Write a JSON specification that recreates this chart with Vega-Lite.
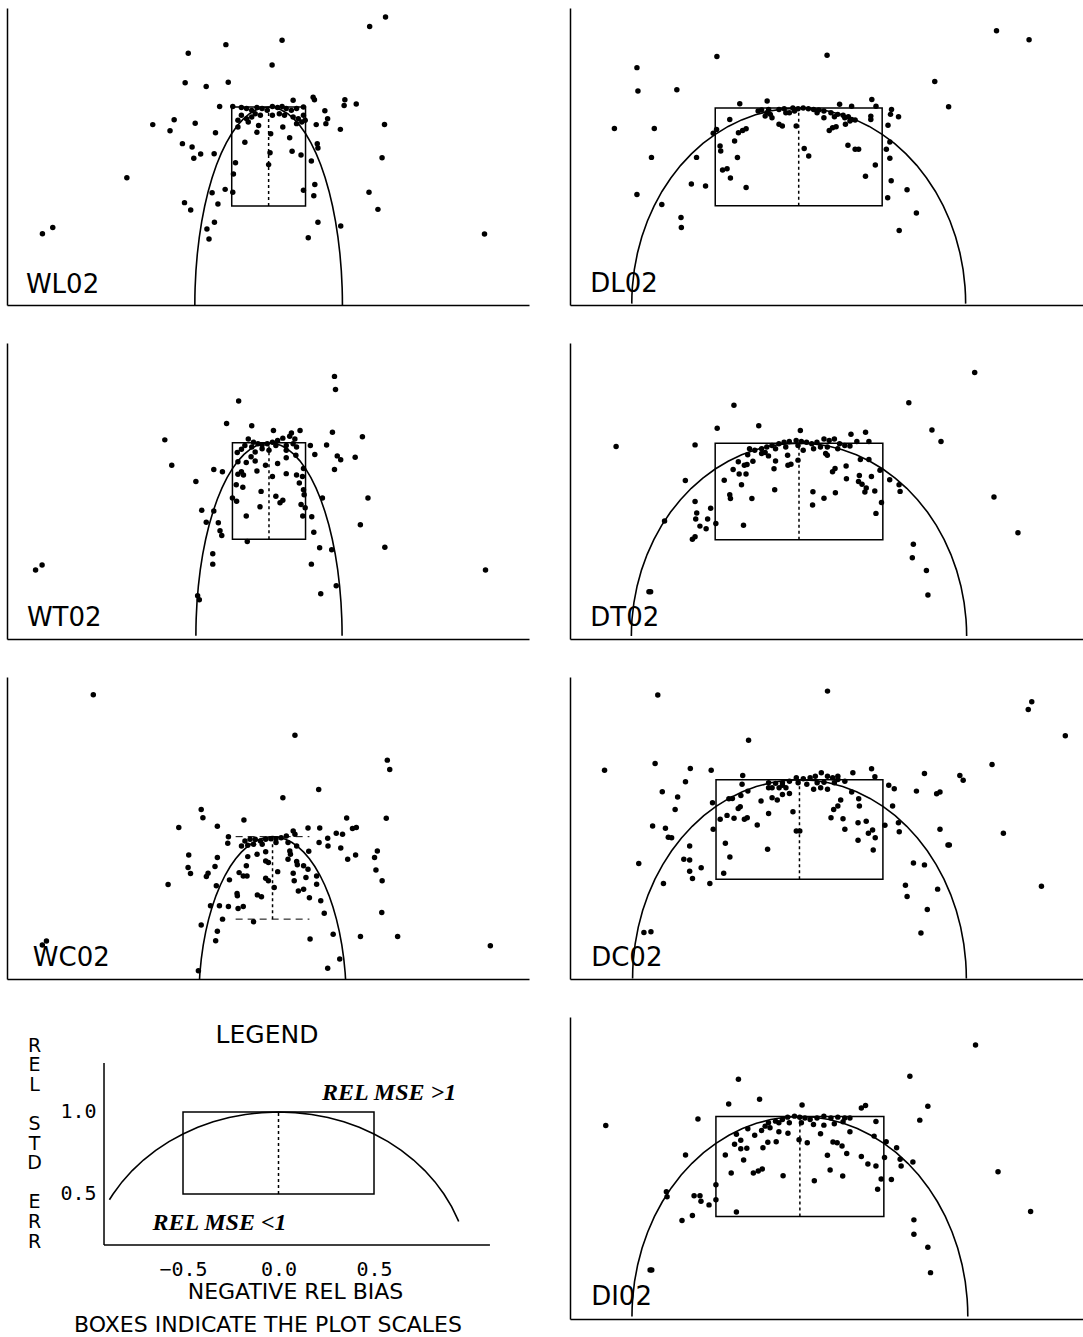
{
"$schema": "https://vega.github.io/schema/vega-lite/v6.json",
"background": "white",
"padding": {"left": 7, "top": 8, "right": 0, "bottom": 0},
"config": {
  "view": {"stroke": null},
  "font": "DejaVu Sans",
  "axis": {"domainColor": "black", "domainWidth": 1.5, "ticks": false, "tickSize": 0, "labels": false, "grid": false}
},
"datasets": {
"circle": [{"x":-1,"y":0},{"x":-0.999,"y":0.0436},{"x":-0.9962,"y":0.0872},{"x":-0.9848,"y":0.1736},{"x":-0.9659,"y":0.2588},{"x":-0.9397,"y":0.342},{"x":-0.9063,"y":0.4226},{"x":-0.866,"y":0.5},{"x":-0.8192,"y":0.5736},{"x":-0.766,"y":0.6428},{"x":-0.7071,"y":0.7071},{"x":-0.6428,"y":0.766},{"x":-0.5736,"y":0.8192},{"x":-0.5,"y":0.866},{"x":-0.4226,"y":0.9063},{"x":-0.342,"y":0.9397},{"x":-0.2588,"y":0.9659},{"x":-0.1736,"y":0.9848},{"x":-0.0872,"y":0.9962},{"x":0,"y":1},{"x":0.0872,"y":0.9962},{"x":0.1736,"y":0.9848},{"x":0.2588,"y":0.9659},{"x":0.342,"y":0.9397},{"x":0.4226,"y":0.9063},{"x":0.5,"y":0.866},{"x":0.5736,"y":0.8192},{"x":0.6428,"y":0.766},{"x":0.7071,"y":0.7071},{"x":0.766,"y":0.6428},{"x":0.8192,"y":0.5736},{"x":0.866,"y":0.5},{"x":0.9063,"y":0.4226},{"x":0.9397,"y":0.342},{"x":0.9659,"y":0.2588},{"x":0.9848,"y":0.1736},{"x":0.9962,"y":0.0872},{"x":0.999,"y":0.0436},{"x":1,"y":0}],
"legendCircle": [{"x":-0.8854,"y":0.4648},{"x":-0.866,"y":0.5},{"x":-0.8192,"y":0.5736},{"x":-0.766,"y":0.6428},{"x":-0.7071,"y":0.7071},{"x":-0.6428,"y":0.766},{"x":-0.5736,"y":0.8192},{"x":-0.5,"y":0.866},{"x":-0.4226,"y":0.9063},{"x":-0.342,"y":0.9397},{"x":-0.2588,"y":0.9659},{"x":-0.1736,"y":0.9848},{"x":-0.0872,"y":0.9962},{"x":0,"y":1},{"x":0.0872,"y":0.9962},{"x":0.1736,"y":0.9848},{"x":0.2588,"y":0.9659},{"x":0.342,"y":0.9397},{"x":0.4226,"y":0.9063},{"x":0.5,"y":0.866},{"x":0.5736,"y":0.8192},{"x":0.6428,"y":0.766},{"x":0.7071,"y":0.7071},{"x":0.766,"y":0.6428},{"x":0.8192,"y":0.5736},{"x":0.866,"y":0.5},{"x":0.9063,"y":0.4226},{"x":0.9397,"y":0.342},{"x":0.9432,"y":0.3322}],
"box": [{"x":-0.5,"x2":0.5,"y":0.5,"y2":1}],
"mid": [{"x":0,"y":0.5,"y2":1}],
"boxEdges": [{"x":-0.5,"x2":0.5,"y":1},{"x":-0.5,"x2":0.5,"y":0.5}],
"legendAxes": [{"x":-0.9136,"x2":-0.9136,"y":0.189,"y2":1.299},{"x":-0.9136,"x2":1.107,"y":0.189,"y2":0.189}],
"WL02": [{"x":1.584,"y":1.455},{"x":1.369,"y":1.407},{"x":0.182,"y":1.337},{"x":-0.579,"y":1.315},{"x":-1.089,"y":1.271},{"x":0.047,"y":1.212},{"x":-1.131,"y":1.123},{"x":-0.846,"y":1.103},{"x":-0.547,"y":1.125},{"x":-1.921,"y":0.643},{"x":-3.065,"y":0.36},{"x":-2.925,"y":0.391},{"x":2.925,"y":0.359},{"x":1.57,"y":0.912},{"x":1.537,"y":0.744},{"x":1.36,"y":0.569},{"x":1.481,"y":0.483},{"x":0.977,"y":0.399},{"x":0.668,"y":0.418},{"x":0.537,"y":0.34},{"x":-1.57,"y":0.911},{"x":-1.336,"y":0.88},{"x":-1.28,"y":0.936},{"x":-0.995,"y":0.918},{"x":-1.168,"y":0.815},{"x":-1.037,"y":0.798},{"x":-1.014,"y":0.741},{"x":-0.921,"y":0.763},{"x":-0.738,"y":0.764},{"x":-0.72,"y":0.87},{"x":-0.664,"y":1.002},{"x":0.332,"y":1.034},{"x":0.603,"y":1.049},{"x":0.621,"y":1.037},{"x":1.033,"y":1.037},{"x":1.187,"y":1.015},{"x":1.023,"y":1.008},{"x":0.762,"y":0.981},{"x":0.799,"y":0.941},{"x":0.776,"y":0.916},{"x":0.645,"y":0.911},{"x":0.972,"y":0.887},{"x":0.659,"y":0.815},{"x":0.668,"y":0.793},{"x":0.579,"y":0.727},{"x":0.626,"y":0.609},{"x":0.612,"y":0.552},{"x":0.472,"y":0.579},{"x":0.318,"y":0.776},{"x":0.439,"y":0.758},{"x":0.285,"y":0.845},{"x":0.192,"y":0.899},{"x":0.028,"y":0.865},{"x":0.019,"y":0.769},{"x":0.0,"y":0.709},{"x":-0.159,"y":0.872},{"x":-0.322,"y":0.822},{"x":-0.449,"y":0.719},{"x":-0.477,"y":0.662},{"x":-0.486,"y":0.569},{"x":-0.589,"y":0.584},{"x":-0.766,"y":0.567},{"x":-0.687,"y":0.51},{"x":-1.14,"y":0.517},{"x":-1.056,"y":0.48},{"x":-0.836,"y":0.384},{"x":-0.734,"y":0.418},{"x":-0.808,"y":0.333},{"x":-0.486,"y":1.003},{"x":-0.369,"y":0.997},{"x":-0.299,"y":0.992},{"x":-0.229,"y":0.983},{"x":-0.159,"y":0.997},{"x":-0.089,"y":0.992},{"x":-0.019,"y":0.983},{"x":0.051,"y":1.003},{"x":0.121,"y":0.997},{"x":0.182,"y":1.003},{"x":0.238,"y":0.992},{"x":0.308,"y":0.983},{"x":0.379,"y":0.992},{"x":0.472,"y":1.0},{"x":-0.369,"y":0.958},{"x":-0.299,"y":0.941},{"x":-0.229,"y":0.949},{"x":-0.182,"y":0.966},{"x":-0.112,"y":0.958},{"x":0.051,"y":0.958},{"x":0.145,"y":0.966},{"x":0.215,"y":0.958},{"x":0.332,"y":0.949},{"x":0.402,"y":0.941},{"x":0.472,"y":0.958},{"x":-0.416,"y":0.933},{"x":-0.276,"y":0.924},{"x":0.379,"y":0.916},{"x":0.449,"y":0.924},{"x":-0.136,"y":0.907},{"x":-0.416,"y":0.899},{"x":0.495,"y":0.933}],
"DL02": [{"x":1.185,"y":1.396},{"x":1.38,"y":1.35},{"x":-0.49,"y":1.264},{"x":0.17,"y":1.27},{"x":-0.969,"y":1.207},{"x":-0.963,"y":1.087},{"x":-0.73,"y":1.094},{"x":0.815,"y":1.136},{"x":0.898,"y":1.007},{"x":-1.104,"y":0.896},{"x":-0.865,"y":0.896},{"x":-0.882,"y":0.748},{"x":-0.969,"y":0.558},{"x":-0.82,"y":0.507},{"x":-0.705,"y":0.44},{"x":-0.703,"y":0.389},{"x":-0.643,"y":0.612},{"x":-0.558,"y":0.602},{"x":-0.612,"y":0.748},{"x":0.602,"y":0.374},{"x":0.705,"y":0.463},{"x":0.649,"y":0.583},{"x":0.533,"y":0.541},{"x":0.554,"y":0.629},{"x":0.546,"y":0.743},{"x":0.525,"y":0.789},{"x":0.459,"y":0.709},{"x":0.4,"y":0.651},{"x":0.546,"y":0.827},{"x":0.535,"y":0.912},{"x":0.598,"y":0.956},{"x":0.55,"y":0.968},{"x":0.556,"y":0.993},{"x":0.438,"y":1.044},{"x":0.463,"y":1.01},{"x":0.432,"y":0.959},{"x":0.432,"y":0.942},{"x":0.245,"y":1.02},{"x":0.317,"y":1.01},{"x":-0.189,"y":1.036},{"x":-0.353,"y":1.022},{"x":-0.471,"y":0.806},{"x":-0.467,"y":0.781},{"x":-0.456,"y":0.684},{"x":-0.429,"y":0.69},{"x":-0.409,"y":0.643},{"x":-0.367,"y":0.747},{"x":-0.384,"y":0.832},{"x":-0.361,"y":0.874},{"x":-0.336,"y":0.886},{"x":-0.315,"y":0.895},{"x":-0.413,"y":0.942},{"x":-0.492,"y":0.891},{"x":-0.512,"y":0.871},{"x":-0.315,"y":0.594},{"x":0.033,"y":0.793},{"x":0.06,"y":0.755},{"x":0.295,"y":0.81},{"x":0.338,"y":0.789},{"x":0.359,"y":0.789},{"x":0.203,"y":0.9},{"x":0.224,"y":0.905},{"x":0.183,"y":0.886},{"x":0.28,"y":0.917},{"x":0.317,"y":0.942},{"x":0.338,"y":0.939},{"x":-0.118,"y":0.917},{"x":-0.098,"y":0.908},{"x":-0.015,"y":0.908},{"x":-0.056,"y":0.976},{"x":-0.222,"y":0.99},{"x":-0.191,"y":0.976},{"x":-0.17,"y":0.968},{"x":-0.201,"y":0.959},{"x":-0.16,"y":0.951},{"x":-0.243,"y":0.985},{"x":-0.118,"y":0.993},{"x":-0.087,"y":0.997},{"x":-0.035,"y":1.0},{"x":-0.004,"y":0.997},{"x":0.027,"y":1.0},{"x":0.058,"y":0.997},{"x":0.089,"y":0.993},{"x":0.12,"y":0.99},{"x":0.151,"y":0.985},{"x":0.193,"y":0.976},{"x":0.234,"y":0.968},{"x":0.266,"y":0.963},{"x":0.297,"y":0.956},{"x":-0.18,"y":0.993},{"x":-0.077,"y":0.976},{"x":-0.025,"y":0.985},{"x":0.11,"y":0.976},{"x":0.151,"y":0.951},{"x":0.214,"y":0.956},{"x":0.276,"y":0.951},{"x":0.307,"y":0.934}],
"WT02": [{"x":0.896,"y":1.344},{"x":0.91,"y":1.276},{"x":-0.415,"y":1.216},{"x":-0.58,"y":1.1},{"x":-0.236,"y":1.088},{"x":0.061,"y":1.063},{"x":0.425,"y":1.063},{"x":0.307,"y":1.051},{"x":0.868,"y":1.054},{"x":1.278,"y":1.031},{"x":-1.425,"y":1.015},{"x":-1.33,"y":0.884},{"x":-1.0,"y":0.799},{"x":-0.755,"y":0.862},{"x":-0.637,"y":0.85},{"x":0.566,"y":0.986},{"x":0.788,"y":0.988},{"x":0.627,"y":0.939},{"x":0.934,"y":0.932},{"x":0.981,"y":0.912},{"x":1.179,"y":0.925},{"x":0.896,"y":0.862},{"x":0.731,"y":0.714},{"x":1.354,"y":0.714},{"x":1.25,"y":0.575},{"x":1.585,"y":0.459},{"x":0.585,"y":0.617},{"x":0.613,"y":0.536},{"x":0.693,"y":0.456},{"x":0.858,"y":0.446},{"x":0.58,"y":0.371},{"x":0.708,"y":0.218},{"x":0.92,"y":0.259},{"x":-0.92,"y":0.65},{"x":-0.755,"y":0.646},{"x":-0.858,"y":0.588},{"x":-0.693,"y":0.585},{"x":-0.67,"y":0.544},{"x":-0.646,"y":0.519},{"x":-0.769,"y":0.425},{"x":-0.769,"y":0.371},{"x":-0.976,"y":0.207},{"x":-0.953,"y":0.187},{"x":-0.297,"y":0.488},{"x":-0.311,"y":0.621},{"x":-3.104,"y":0.367},{"x":-3.193,"y":0.34},{"x":2.962,"y":0.34},{"x":-0.425,"y":0.901},{"x":-0.311,"y":0.898},{"x":-0.189,"y":0.905},{"x":-0.377,"y":0.85},{"x":-0.425,"y":0.837},{"x":-0.349,"y":0.833},{"x":-0.165,"y":0.854},{"x":-0.047,"y":0.884},{"x":0.118,"y":0.893},{"x":0.236,"y":0.922},{"x":0.368,"y":0.935},{"x":0.047,"y":0.825},{"x":0.236,"y":0.84},{"x":0.377,"y":0.833},{"x":0.472,"y":0.867},{"x":0.458,"y":0.825},{"x":0.415,"y":0.791},{"x":0.472,"y":0.757},{"x":0.481,"y":0.731},{"x":0.439,"y":0.68},{"x":0.495,"y":0.663},{"x":0.462,"y":0.621},{"x":-0.448,"y":0.782},{"x":-0.358,"y":0.769},{"x":-0.5,"y":0.714},{"x":-0.443,"y":0.697},{"x":-0.108,"y":0.748},{"x":-0.123,"y":0.668},{"x":0.094,"y":0.723},{"x":0.189,"y":0.702},{"x":0.151,"y":0.689},{"x":-0.434,"y":0.949},{"x":-0.245,"y":0.927},{"x":-0.283,"y":1.02},{"x":-0.212,"y":1.003},{"x":-0.151,"y":0.995},{"x":-0.094,"y":0.99},{"x":-0.024,"y":0.995},{"x":0.047,"y":1.003},{"x":0.118,"y":1.012},{"x":0.189,"y":1.024},{"x":0.283,"y":1.034},{"x":0.354,"y":1.02},{"x":-0.33,"y":0.986},{"x":-0.236,"y":0.978},{"x":-0.094,"y":0.969},{"x":0.094,"y":0.986},{"x":0.236,"y":0.986},{"x":0.33,"y":0.995},{"x":0.377,"y":0.978},{"x":-0.189,"y":0.952},{"x":0.0,"y":0.961},{"x":0.236,"y":0.961},{"x":-0.377,"y":0.966}],
"DT02": [{"x":1.048,"y":1.366},{"x":0.655,"y":1.209},{"x":-0.388,"y":1.196},{"x":-0.24,"y":1.09},{"x":-0.488,"y":1.077},{"x":0.008,"y":1.065},{"x":0.793,"y":1.068},{"x":0.847,"y":1.009},{"x":-1.091,"y":0.983},{"x":-0.62,"y":0.991},{"x":0.397,"y":1.056},{"x":0.31,"y":1.046},{"x":1.163,"y":0.721},{"x":1.306,"y":0.536},{"x":-0.678,"y":0.806},{"x":-0.62,"y":0.697},{"x":-0.61,"y":0.638},{"x":-0.616,"y":0.607},{"x":-0.545,"y":0.607},{"x":-0.527,"y":0.663},{"x":-0.591,"y":0.57},{"x":-0.554,"y":0.556},{"x":-0.496,"y":0.583},{"x":-0.636,"y":0.502},{"x":-0.62,"y":0.515},{"x":-0.802,"y":0.597},{"x":-0.895,"y":0.23},{"x":-0.885,"y":0.23},{"x":0.682,"y":0.476},{"x":0.676,"y":0.406},{"x":0.76,"y":0.34},{"x":0.769,"y":0.213},{"x":0.541,"y":0.81},{"x":0.597,"y":0.784},{"x":0.603,"y":0.75},{"x":0.492,"y":0.692},{"x":0.459,"y":0.636},{"x":0.452,"y":0.752},{"x":-0.362,"y":0.903},{"x":-0.326,"y":0.886},{"x":-0.31,"y":0.889},{"x":-0.275,"y":0.906},{"x":-0.393,"y":0.864},{"x":-0.357,"y":0.84},{"x":-0.316,"y":0.84},{"x":-0.446,"y":0.808},{"x":-0.343,"y":0.784},{"x":-0.413,"y":0.733},{"x":-0.409,"y":0.713},{"x":-0.281,"y":0.713},{"x":-0.331,"y":0.575},{"x":-0.145,"y":0.759},{"x":-0.149,"y":0.867},{"x":-0.14,"y":0.908},{"x":-0.066,"y":0.886},{"x":-0.048,"y":0.891},{"x":-0.006,"y":0.912},{"x":0.083,"y":0.748},{"x":0.081,"y":0.679},{"x":0.149,"y":0.714},{"x":0.217,"y":0.743},{"x":0.2,"y":0.852},{"x":0.215,"y":0.869},{"x":0.281,"y":0.881},{"x":0.283,"y":0.815},{"x":0.36,"y":0.832},{"x":0.355,"y":0.801},{"x":0.376,"y":0.787},{"x":0.393,"y":0.747},{"x":0.401,"y":0.767},{"x":0.432,"y":0.827},{"x":0.483,"y":0.859},{"x":0.366,"y":0.915},{"x":0.417,"y":0.915},{"x":-0.306,"y":0.94},{"x":-0.223,"y":0.946},{"x":-0.182,"y":0.934},{"x":-0.068,"y":0.937},{"x":0.159,"y":0.946},{"x":0.169,"y":0.937},{"x":-0.295,"y":0.971},{"x":-0.264,"y":0.963},{"x":-0.223,"y":0.971},{"x":-0.192,"y":0.98},{"x":-0.161,"y":0.988},{"x":-0.12,"y":0.997},{"x":-0.089,"y":1.005},{"x":-0.058,"y":1.009},{"x":-0.017,"y":1.014},{"x":0.014,"y":1.009},{"x":0.045,"y":1.005},{"x":0.076,"y":0.997},{"x":0.107,"y":1.005},{"x":0.149,"y":1.022},{"x":0.18,"y":1.014},{"x":0.211,"y":1.022},{"x":0.242,"y":0.997},{"x":0.273,"y":0.988},{"x":0.304,"y":0.985},{"x":0.345,"y":1.009},{"x":0.417,"y":1.009},{"x":-0.202,"y":0.951},{"x":-0.14,"y":0.971},{"x":-0.079,"y":0.98},{"x":-0.006,"y":0.988},{"x":0.087,"y":0.971},{"x":0.128,"y":0.98},{"x":0.169,"y":0.98},{"x":0.231,"y":0.971},{"x":0.025,"y":0.963}],
"WC02": [{"x":-2.43,"y":1.861},{"x":0.304,"y":1.615},{"x":1.556,"y":1.464},{"x":1.589,"y":1.407},{"x":0.626,"y":1.286},{"x":0.14,"y":1.236},{"x":-0.967,"y":1.165},{"x":-0.944,"y":1.115},{"x":-0.388,"y":1.101},{"x":1.542,"y":1.111},{"x":1.005,"y":1.113},{"x":-1.271,"y":1.056},{"x":-0.748,"y":1.063},{"x":0.481,"y":1.052},{"x":0.64,"y":1.052},{"x":1.136,"y":1.056},{"x":1.084,"y":1.05},{"x":-0.598,"y":1.0},{"x":-0.607,"y":0.96},{"x":0.864,"y":1.02},{"x":0.949,"y":1.014},{"x":0.748,"y":0.99},{"x":0.631,"y":0.964},{"x":0.752,"y":0.944},{"x":0.925,"y":0.931},{"x":0.491,"y":0.911},{"x":1.421,"y":0.913},{"x":1.383,"y":0.873},{"x":1.126,"y":0.889},{"x":1.019,"y":0.863},{"x":-1.136,"y":0.889},{"x":-1.145,"y":0.813},{"x":-1.112,"y":0.776},{"x":-0.748,"y":0.873},{"x":-0.78,"y":0.819},{"x":-0.874,"y":0.778},{"x":-0.897,"y":0.758},{"x":-1.416,"y":0.71},{"x":-0.762,"y":0.702},{"x":-0.584,"y":0.738},{"x":1.402,"y":0.798},{"x":1.486,"y":0.732},{"x":1.481,"y":0.54},{"x":1.192,"y":0.395},{"x":1.696,"y":0.395},{"x":2.953,"y":0.339},{"x":-0.967,"y":0.464},{"x":-0.748,"y":0.427},{"x":-0.771,"y":0.369},{"x":0.509,"y":0.379},{"x":0.701,"y":0.536},{"x":0.654,"y":0.611},{"x":0.822,"y":0.409},{"x":0.911,"y":0.258},{"x":0.748,"y":0.202},{"x":-1.005,"y":0.187},{"x":-3.065,"y":0.367},{"x":-3.121,"y":0.343},{"x":-0.257,"y":0.484},{"x":-0.678,"y":0.5},{"x":-0.841,"y":0.581},{"x":-0.72,"y":0.581},{"x":-0.598,"y":0.577},{"x":-0.467,"y":0.565},{"x":-0.397,"y":0.577},{"x":-0.481,"y":0.655},{"x":-0.477,"y":0.641},{"x":-0.206,"y":0.647},{"x":-0.15,"y":0.635},{"x":-0.355,"y":0.823},{"x":-0.346,"y":0.762},{"x":-0.397,"y":0.762},{"x":-0.453,"y":0.782},{"x":-0.093,"y":0.748},{"x":-0.056,"y":0.732},{"x":0.07,"y":0.788},{"x":0.023,"y":0.692},{"x":0.28,"y":0.778},{"x":0.294,"y":0.732},{"x":0.453,"y":0.752},{"x":0.421,"y":0.681},{"x":0.35,"y":0.671},{"x":0.5,"y":0.629},{"x":0.598,"y":0.762},{"x":0.598,"y":0.712},{"x":0.243,"y":0.893},{"x":0.327,"y":0.849},{"x":0.336,"y":0.829},{"x":0.21,"y":0.863},{"x":0.234,"y":0.913},{"x":0.421,"y":0.823},{"x":0.481,"y":0.802},{"x":-0.093,"y":0.853},{"x":-0.056,"y":0.843},{"x":-0.21,"y":0.893},{"x":-0.093,"y":0.909},{"x":-0.336,"y":0.879},{"x":-0.336,"y":0.948},{"x":-0.421,"y":0.944},{"x":-0.374,"y":0.974},{"x":-0.304,"y":0.984},{"x":-0.234,"y":0.984},{"x":-0.164,"y":0.974},{"x":-0.093,"y":0.984},{"x":-0.023,"y":0.988},{"x":0.047,"y":0.988},{"x":0.117,"y":0.994},{"x":0.187,"y":1.004},{"x":0.28,"y":1.034},{"x":0.304,"y":1.014},{"x":-0.257,"y":0.954},{"x":-0.14,"y":0.954},{"x":0.047,"y":0.964},{"x":0.21,"y":0.964},{"x":0.327,"y":0.944}],
"DC02": [{"x":-0.849,"y":1.426},{"x":0.168,"y":1.446},{"x":1.392,"y":1.393},{"x":1.371,"y":1.353},{"x":1.593,"y":1.222},{"x":-0.305,"y":1.199},{"x":-1.168,"y":1.048},{"x":-0.865,"y":1.082},{"x":-0.654,"y":1.057},{"x":-0.529,"y":1.048},{"x":-0.34,"y":1.022},{"x":-0.683,"y":0.99},{"x":-0.822,"y":0.94},{"x":-0.73,"y":0.913},{"x":-0.745,"y":0.851},{"x":-0.88,"y":0.768},{"x":-0.803,"y":0.756},{"x":-0.786,"y":0.711},{"x":-0.766,"y":0.709},{"x":-0.658,"y":0.667},{"x":-0.963,"y":0.579},{"x":-0.693,"y":0.6},{"x":-0.658,"y":0.597},{"x":-0.658,"y":0.54},{"x":-0.641,"y":0.503},{"x":-0.589,"y":0.557},{"x":-0.537,"y":0.478},{"x":-0.815,"y":0.478},{"x":-0.932,"y":0.232},{"x":-0.89,"y":0.236},{"x":1.154,"y":1.077},{"x":0.749,"y":1.032},{"x":0.961,"y":1.022},{"x":0.981,"y":0.998},{"x":0.701,"y":0.943},{"x":0.822,"y":0.93},{"x":0.842,"y":0.938},{"x":0.558,"y":0.868},{"x":0.593,"y":0.784},{"x":0.598,"y":0.739},{"x":0.842,"y":0.751},{"x":0.89,"y":0.672},{"x":0.898,"y":0.672},{"x":1.222,"y":0.731},{"x":1.45,"y":0.465},{"x":0.683,"y":0.582},{"x":0.749,"y":0.572},{"x":0.635,"y":0.47},{"x":0.645,"y":0.413},{"x":0.828,"y":0.45},{"x":0.766,"y":0.348},{"x":0.728,"y":0.229},{"x":0.568,"y":0.955},{"x":0.535,"y":0.972},{"x":0.512,"y":0.771},{"x":0.432,"y":1.055},{"x":0.452,"y":1.015},{"x":0.32,"y":1.035},{"x":0.23,"y":1.018},{"x":-0.521,"y":0.885},{"x":-0.517,"y":0.751},{"x":-0.475,"y":0.801},{"x":-0.434,"y":0.821},{"x":-0.392,"y":0.806},{"x":-0.33,"y":0.801},{"x":-0.313,"y":0.809},{"x":-0.253,"y":0.773},{"x":-0.444,"y":0.681},{"x":-0.417,"y":0.612},{"x":-0.454,"y":0.53},{"x":-0.191,"y":0.651},{"x":-0.185,"y":0.831},{"x":-0.23,"y":0.893},{"x":-0.355,"y":0.865},{"x":-0.367,"y":0.856},{"x":-0.423,"y":0.905},{"x":-0.402,"y":0.906},{"x":-0.351,"y":0.921},{"x":-0.309,"y":0.943},{"x":-0.164,"y":0.91},{"x":-0.133,"y":0.898},{"x":-0.102,"y":0.926},{"x":-0.06,"y":0.931},{"x":-0.039,"y":0.839},{"x":-0.019,"y":0.742},{"x":0.002,"y":0.742},{"x":0.189,"y":0.809},{"x":0.205,"y":0.851},{"x":0.23,"y":0.868},{"x":0.247,"y":0.898},{"x":0.261,"y":0.804},{"x":0.272,"y":0.751},{"x":0.313,"y":0.938},{"x":0.355,"y":0.905},{"x":0.359,"y":0.868},{"x":0.351,"y":0.784},{"x":0.4,"y":0.791},{"x":0.438,"y":0.747},{"x":0.413,"y":0.731},{"x":0.454,"y":0.709},{"x":0.351,"y":0.696},{"x":0.442,"y":0.647},{"x":-0.344,"y":0.977},{"x":-0.164,"y":0.96},{"x":-0.122,"y":0.96},{"x":-0.081,"y":0.96},{"x":0.085,"y":0.952},{"x":0.127,"y":0.96},{"x":0.168,"y":0.952},{"x":0.209,"y":0.985},{"x":-0.185,"y":0.985},{"x":-0.143,"y":0.982},{"x":-0.102,"y":0.985},{"x":-0.06,"y":0.993},{"x":-0.019,"y":1.01},{"x":0.023,"y":1.005},{"x":0.064,"y":1.01},{"x":0.095,"y":1.018},{"x":0.131,"y":1.035},{"x":0.168,"y":1.018},{"x":0.199,"y":1.01},{"x":0.23,"y":1.002},{"x":0.272,"y":0.993},{"x":-0.185,"y":0.96},{"x":-0.102,"y":0.972},{"x":-0.008,"y":0.985},{"x":0.044,"y":0.977},{"x":0.106,"y":0.985},{"x":0.147,"y":0.988}],
"DI02": [{"x":1.046,"y":1.358},{"x":0.655,"y":1.202},{"x":-0.366,"y":1.187},{"x":-0.24,"y":1.086},{"x":-0.424,"y":1.063},{"x":0.013,"y":1.058},{"x":0.391,"y":1.055},{"x":0.366,"y":1.043},{"x":0.762,"y":1.051},{"x":0.714,"y":0.982},{"x":-1.156,"y":0.955},{"x":-0.607,"y":0.988},{"x":1.18,"y":0.724},{"x":1.374,"y":0.525},{"x":-0.681,"y":0.808},{"x":-0.795,"y":0.624},{"x":-0.791,"y":0.599},{"x":-0.63,"y":0.604},{"x":-0.595,"y":0.604},{"x":-0.589,"y":0.576},{"x":-0.541,"y":0.558},{"x":-0.702,"y":0.48},{"x":-0.64,"y":0.505},{"x":-0.892,"y":0.232},{"x":-0.882,"y":0.232},{"x":0.679,"y":0.483},{"x":0.679,"y":0.411},{"x":0.762,"y":0.346},{"x":0.778,"y":0.219},{"x":0.576,"y":0.844},{"x":0.597,"y":0.786},{"x":0.603,"y":0.753},{"x":0.673,"y":0.772},{"x":0.545,"y":0.685},{"x":0.484,"y":0.687},{"x":0.504,"y":0.795},{"x":0.514,"y":0.874},{"x":-0.5,"y":0.659},{"x":-0.5,"y":0.584},{"x":-0.378,"y":0.522},{"x":-0.444,"y":0.808},{"x":-0.409,"y":0.717},{"x":-0.335,"y":0.783},{"x":-0.378,"y":0.911},{"x":-0.389,"y":0.861},{"x":-0.352,"y":0.881},{"x":-0.352,"y":0.839},{"x":-0.316,"y":0.841},{"x":-0.269,"y":0.906},{"x":-0.277,"y":0.717},{"x":-0.248,"y":0.728},{"x":-0.224,"y":0.738},{"x":-0.22,"y":0.844},{"x":-0.191,"y":0.871},{"x":-0.141,"y":0.874},{"x":-0.178,"y":0.944},{"x":-0.1,"y":0.704},{"x":-0.071,"y":0.916},{"x":-0.005,"y":0.884},{"x":0.044,"y":0.869},{"x":0.086,"y":0.679},{"x":0.123,"y":0.914},{"x":0.18,"y":0.732},{"x":0.164,"y":0.806},{"x":0.197,"y":0.873},{"x":0.222,"y":0.869},{"x":0.251,"y":0.853},{"x":0.255,"y":0.702},{"x":0.279,"y":0.815},{"x":0.298,"y":0.924},{"x":0.366,"y":0.8},{"x":0.405,"y":0.763},{"x":0.453,"y":0.753},{"x":0.442,"y":0.902},{"x":0.463,"y":0.636},{"x":0.453,"y":0.975},{"x":-0.31,"y":0.939},{"x":-0.228,"y":0.93},{"x":-0.125,"y":0.924},{"x":-0.187,"y":0.969},{"x":-0.145,"y":0.977},{"x":-0.104,"y":0.985},{"x":-0.073,"y":0.997},{"x":-0.032,"y":1.002},{"x":-0.001,"y":0.997},{"x":0.03,"y":0.993},{"x":0.061,"y":0.985},{"x":0.102,"y":0.993},{"x":0.143,"y":1.002},{"x":0.185,"y":0.993},{"x":0.226,"y":0.997},{"x":0.267,"y":0.993},{"x":0.298,"y":0.993},{"x":-0.207,"y":0.952},{"x":-0.125,"y":0.969},{"x":-0.063,"y":0.969},{"x":0.009,"y":0.969},{"x":0.081,"y":0.96},{"x":0.143,"y":0.957},{"x":0.205,"y":0.964},{"x":0.257,"y":0.974}]
},
"spacing": 38,
"vconcat": [
{"spacing": 41, "hconcat": [
 {"width": 522, "height": 297, "layer": [
  {"encoding": {"x": {"field": "x", "type": "quantitative", "scale": {"domain": [-3.545, 3.528], "nice": false, "zero": false}, "axis": {"title": null}},
                "y": {"field": "y", "type": "quantitative", "scale": {"domain": [0, 1.5], "nice": false, "zero": false}, "axis": {"title": null}}},
   "layer": [
    {"data": {"name": "circle"}, "mark": {"type": "line", "color": "black", "strokeWidth": 1.6, "clip": true}},
    {"data": {"name": "box"}, "mark": {"type": "rect", "fill": "transparent", "stroke": "black", "strokeWidth": 1.5}, "encoding": {"x2": {"field": "x2"}, "y2": {"field": "y2"}}},
    {"data": {"name": "mid"}, "mark": {"type": "rule", "color": "black", "strokeWidth": 1.5, "strokeDash": [3, 3]}, "encoding": {"y2": {"field": "y2"}}},
    {"data": {"name": "WL02"}, "mark": {"type": "point", "shape": "circle", "filled": true, "color": "black", "opacity": 1, "size": 30}}
   ]},
  {"data": {"values": [{"label": "WL02"}]}, "mark": {"type": "text", "align": "left", "baseline": "alphabetic", "font": "DejaVu Sans", "fontSize": 26, "color": "black"},
   "encoding": {"text": {"field": "label"}, "x": {"datum": -3.289, "type": "quantitative", "scale": {"domain": [-3.545, 3.528], "nice": false, "zero": false}},
                "y": {"datum": 0.059, "type": "quantitative", "scale": {"domain": [0, 1.5], "nice": false, "zero": false}}}}
 ]},
 {"width": 513, "height": 297, "layer": [
  {"encoding": {"x": {"field": "x", "type": "quantitative", "scale": {"domain": [-1.37, 1.703], "nice": false, "zero": false}, "axis": {"title": null}},
                "y": {"field": "y", "type": "quantitative", "scale": {"domain": [-0.007, 1.512], "nice": false, "zero": false}, "axis": {"title": null}}},
   "layer": [
    {"data": {"name": "circle"}, "mark": {"type": "line", "color": "black", "strokeWidth": 1.6, "clip": true}},
    {"data": {"name": "box"}, "mark": {"type": "rect", "fill": "transparent", "stroke": "black", "strokeWidth": 1.5}, "encoding": {"x2": {"field": "x2"}, "y2": {"field": "y2"}}},
    {"data": {"name": "mid"}, "mark": {"type": "rule", "color": "black", "strokeWidth": 1.5, "strokeDash": [3, 3]}, "encoding": {"y2": {"field": "y2"}}},
    {"data": {"name": "DL02"}, "mark": {"type": "point", "shape": "circle", "filled": true, "color": "black", "opacity": 1, "size": 30}}
   ]},
  {"data": {"values": [{"label": "DL02"}]}, "mark": {"type": "text", "align": "left", "baseline": "alphabetic", "font": "DejaVu Sans", "fontSize": 26, "color": "black"},
   "encoding": {"text": {"field": "label"}, "x": {"datum": -1.249, "type": "quantitative", "scale": {"domain": [-1.37, 1.703], "nice": false, "zero": false}},
                "y": {"datum": 0.058, "type": "quantitative", "scale": {"domain": [-0.007, 1.512], "nice": false, "zero": false}}}}
 ]}
]},
{"spacing": 41, "hconcat": [
 {"width": 522, "height": 296, "layer": [
  {"encoding": {"x": {"field": "x", "type": "quantitative", "scale": {"domain": [-3.584, 3.557], "nice": false, "zero": false}, "axis": {"title": null}},
                "y": {"field": "y", "type": "quantitative", "scale": {"domain": [-0.017, 1.517], "nice": false, "zero": false}, "axis": {"title": null}}},
   "layer": [
    {"data": {"name": "circle"}, "mark": {"type": "line", "color": "black", "strokeWidth": 1.6, "clip": true}},
    {"data": {"name": "box"}, "mark": {"type": "rect", "fill": "transparent", "stroke": "black", "strokeWidth": 1.5}, "encoding": {"x2": {"field": "x2"}, "y2": {"field": "y2"}}},
    {"data": {"name": "mid"}, "mark": {"type": "rule", "color": "black", "strokeWidth": 1.5, "strokeDash": [3, 3]}, "encoding": {"y2": {"field": "y2"}}},
    {"data": {"name": "WT02"}, "mark": {"type": "point", "shape": "circle", "filled": true, "color": "black", "opacity": 1, "size": 30}}
   ]},
  {"data": {"values": [{"label": "WT02"}]}, "mark": {"type": "text", "align": "left", "baseline": "alphabetic", "font": "DejaVu Sans", "fontSize": 26, "color": "black"},
   "encoding": {"text": {"field": "label"}, "x": {"datum": -3.312, "type": "quantitative", "scale": {"domain": [-3.584, 3.557], "nice": false, "zero": false}},
                "y": {"datum": 0.05, "type": "quantitative", "scale": {"domain": [-0.017, 1.517], "nice": false, "zero": false}}}}
 ]},
 {"width": 513, "height": 296, "layer": [
  {"encoding": {"x": {"field": "x", "type": "quantitative", "scale": {"domain": [-1.366, 1.694], "nice": false, "zero": false}, "axis": {"title": null}},
                "y": {"field": "y", "type": "quantitative", "scale": {"domain": [-0.015, 1.519], "nice": false, "zero": false}, "axis": {"title": null}}},
   "layer": [
    {"data": {"name": "circle"}, "mark": {"type": "line", "color": "black", "strokeWidth": 1.6, "clip": true}},
    {"data": {"name": "box"}, "mark": {"type": "rect", "fill": "transparent", "stroke": "black", "strokeWidth": 1.5}, "encoding": {"x2": {"field": "x2"}, "y2": {"field": "y2"}}},
    {"data": {"name": "mid"}, "mark": {"type": "rule", "color": "black", "strokeWidth": 1.5, "strokeDash": [3, 3]}, "encoding": {"y2": {"field": "y2"}}},
    {"data": {"name": "DT02"}, "mark": {"type": "point", "shape": "circle", "filled": true, "color": "black", "opacity": 1, "size": 30}}
   ]},
  {"data": {"values": [{"label": "DT02"}]}, "mark": {"type": "text", "align": "left", "baseline": "alphabetic", "font": "DejaVu Sans", "fontSize": 26, "color": "black"},
   "encoding": {"text": {"field": "label"}, "x": {"datum": -1.245, "type": "quantitative", "scale": {"domain": [-1.366, 1.694], "nice": false, "zero": false}},
                "y": {"datum": 0.052, "type": "quantitative", "scale": {"domain": [-0.015, 1.519], "nice": false, "zero": false}}}}
 ]}
]},
{"spacing": 41, "hconcat": [
 {"width": 522, "height": 302, "layer": [
  {"encoding": {"x": {"field": "x", "type": "quantitative", "scale": {"domain": [-3.6, 3.477], "nice": false, "zero": false}, "axis": {"title": null}},
                "y": {"field": "y", "type": "quantitative", "scale": {"domain": [0.137, 1.968], "nice": false, "zero": false}, "axis": {"title": null}}},
   "layer": [
    {"data": {"name": "circle"}, "mark": {"type": "line", "color": "black", "strokeWidth": 1.6, "clip": true}},
    {"data": {"name": "boxEdges"}, "mark": {"type": "rule", "color": "black", "strokeWidth": 1, "strokeDash": [7, 5]}, "encoding": {"x2": {"field": "x2"}}},
    {"data": {"name": "mid"}, "mark": {"type": "rule", "color": "black", "strokeWidth": 1.5, "strokeDash": [3, 3]}, "encoding": {"y2": {"field": "y2"}}},
    {"data": {"name": "WC02"}, "mark": {"type": "point", "shape": "circle", "filled": true, "color": "black", "opacity": 1, "size": 30}}
   ]},
  {"data": {"values": [{"label": "WC02"}]}, "mark": {"type": "text", "align": "left", "baseline": "alphabetic", "font": "DejaVu Sans", "fontSize": 26, "color": "black"},
   "encoding": {"text": {"field": "label"}, "x": {"datum": -3.25, "type": "quantitative", "scale": {"domain": [-3.6, 3.477], "nice": false, "zero": false}},
                "y": {"datum": 0.214, "type": "quantitative", "scale": {"domain": [0.137, 1.968], "nice": false, "zero": false}}}}
 ]},
 {"width": 513, "height": 302, "layer": [
  {"encoding": {"x": {"field": "x", "type": "quantitative", "scale": {"domain": [-1.375, 1.699], "nice": false, "zero": false}, "axis": {"title": null}},
                "y": {"field": "y", "type": "quantitative", "scale": {"domain": [-0.002, 1.517], "nice": false, "zero": false}, "axis": {"title": null}}},
   "layer": [
    {"data": {"name": "circle"}, "mark": {"type": "line", "color": "black", "strokeWidth": 1.6, "clip": true}},
    {"data": {"name": "box"}, "mark": {"type": "rect", "fill": "transparent", "stroke": "black", "strokeWidth": 1.5}, "encoding": {"x2": {"field": "x2"}, "y2": {"field": "y2"}}},
    {"data": {"name": "mid"}, "mark": {"type": "rule", "color": "black", "strokeWidth": 1.5, "strokeDash": [3, 3]}, "encoding": {"y2": {"field": "y2"}}},
    {"data": {"name": "DC02"}, "mark": {"type": "point", "shape": "circle", "filled": true, "color": "black", "opacity": 1, "size": 30}}
   ]},
  {"data": {"values": [{"label": "DC02"}]}, "mark": {"type": "text", "align": "left", "baseline": "alphabetic", "font": "DejaVu Sans", "fontSize": 26, "color": "black"},
   "encoding": {"text": {"field": "label"}, "x": {"datum": -1.248, "type": "quantitative", "scale": {"domain": [-1.375, 1.699], "nice": false, "zero": false}},
                "y": {"datum": 0.065, "type": "quantitative", "scale": {"domain": [-0.002, 1.517], "nice": false, "zero": false}}}}
 ]}
]},
{"spacing": 41, "hconcat": [
 {"width": 522, "height": 257,
  "title": {"text": "BOXES INDICATE THE PLOT SCALES", "orient": "bottom", "anchor": "middle", "frame": "group", "offset": 13, "baseline": "top", "font": "DejaVu Sans", "fontSize": 22, "fontWeight": "normal", "color": "black"},
  "layer": [
  {"encoding": {"x": {"field": "x", "type": "quantitative", "scale": {"domain": [-1.4215, 1.3115], "nice": false, "zero": false},
                      "axis": {"title": "NEGATIVE REL BIAS", "titleX": 288, "offset": -29, "values": [-0.5, 0, 0.5], "format": ".1f", "labels": true, "domain": false, "ticks": false, "tickSize": 0, "labelFont": "DejaVu Sans Mono", "labelFontSize": 20, "labelColor": "black", "labelPadding": 14, "titleFont": "DejaVu Sans", "titleFontSize": 22, "titleFontWeight": "normal", "titleColor": "black", "titlePadding": 2}},
                "y": {"field": "y", "type": "quantitative", "scale": {"domain": [0.012, 1.579], "nice": false, "zero": false},
                      "axis": {"title": ["R", "E", "L", "\u200b", "S", "T", "D", "\u200b", "E", "R", "R"], "titleAngle": 0, "titleAlign": "center", "titleBaseline": "middle", "titleLineHeight": 19.6, "titleFont": "DejaVu Sans", "titleFontSize": 19, "titleFontWeight": "normal", "titleColor": "black", "titleX": -70, "titleY": 28, "offset": -97, "values": [0.5, 1], "format": ".1f", "labels": true, "domain": false, "ticks": false, "tickSize": 0, "labelFont": "DejaVu Sans Mono", "labelFontSize": 20, "labelColor": "black", "labelPadding": 8}}},
   "layer": [
    {"data": {"name": "legendCircle"}, "mark": {"type": "line", "color": "black", "strokeWidth": 1.6}},
    {"data": {"name": "box"}, "mark": {"type": "rect", "fill": "transparent", "stroke": "black", "strokeWidth": 1.5}, "encoding": {"x2": {"field": "x2"}, "y2": {"field": "y2"}}},
    {"data": {"name": "mid"}, "mark": {"type": "rule", "color": "black", "strokeWidth": 1.5, "strokeDash": [3, 3]}, "encoding": {"y2": {"field": "y2"}}},
    {"data": {"name": "legendAxes"}, "mark": {"type": "rule", "color": "black", "strokeWidth": 1.5}, "encoding": {"x2": {"field": "x2"}, "y2": {"field": "y2"}}}
   ]},
  {"data": {"values": [{"label": "LEGEND"}]}, "mark": {"type": "text", "align": "center", "baseline": "alphabetic", "font": "DejaVu Sans", "fontSize": 25, "color": "black"},
   "encoding": {"text": {"field": "label"}, "x": {"datum": -0.06, "type": "quantitative", "scale": {"domain": [-1.4215, 1.3115], "nice": false, "zero": false}},
                "y": {"datum": 1.421, "type": "quantitative", "scale": {"domain": [0.012, 1.579], "nice": false, "zero": false}}}},
  {"data": {"values": [{"label": "REL MSE >1"}]}, "mark": {"type": "text", "align": "center", "baseline": "alphabetic", "font": "Liberation Serif", "fontStyle": "italic", "fontWeight": "bold", "fontSize": 24, "color": "black"},
   "encoding": {"text": {"field": "label"}, "x": {"datum": 0.579, "type": "quantitative", "scale": {"domain": [-1.4215, 1.3115], "nice": false, "zero": false}},
                "y": {"datum": 1.073, "type": "quantitative", "scale": {"domain": [0.012, 1.579], "nice": false, "zero": false}}}},
  {"data": {"values": [{"label": "REL MSE <1"}]}, "mark": {"type": "text", "align": "center", "baseline": "alphabetic", "font": "Liberation Serif", "fontStyle": "italic", "fontWeight": "bold", "fontSize": 24, "color": "black"},
   "encoding": {"text": {"field": "label"}, "x": {"datum": -0.309, "type": "quantitative", "scale": {"domain": [-1.4215, 1.3115], "nice": false, "zero": false}},
                "y": {"datum": 0.28, "type": "quantitative", "scale": {"domain": [0.012, 1.579], "nice": false, "zero": false}}}}
 ]},
 {"width": 513, "height": 302, "layer": [
  {"encoding": {"x": {"field": "x", "type": "quantitative", "scale": {"domain": [-1.369, 1.686], "nice": false, "zero": false}, "axis": {"title": null}},
                "y": {"field": "y", "type": "quantitative", "scale": {"domain": [-0.013, 1.498], "nice": false, "zero": false}, "axis": {"title": null}}},
   "layer": [
    {"data": {"name": "circle"}, "mark": {"type": "line", "color": "black", "strokeWidth": 1.6, "clip": true}},
    {"data": {"name": "box"}, "mark": {"type": "rect", "fill": "transparent", "stroke": "black", "strokeWidth": 1.5}, "encoding": {"x2": {"field": "x2"}, "y2": {"field": "y2"}}},
    {"data": {"name": "mid"}, "mark": {"type": "rule", "color": "black", "strokeWidth": 1.5, "strokeDash": [3, 3]}, "encoding": {"y2": {"field": "y2"}}},
    {"data": {"name": "DI02"}, "mark": {"type": "point", "shape": "circle", "filled": true, "color": "black", "opacity": 1, "size": 30}}
   ]},
  {"data": {"values": [{"label": "DI02"}]}, "mark": {"type": "text", "align": "left", "baseline": "alphabetic", "font": "DejaVu Sans", "fontSize": 26, "color": "black"},
   "encoding": {"text": {"field": "label"}, "x": {"datum": -1.243, "type": "quantitative", "scale": {"domain": [-1.369, 1.686], "nice": false, "zero": false}},
                "y": {"datum": 0.059, "type": "quantitative", "scale": {"domain": [-0.013, 1.498], "nice": false, "zero": false}}}}
 ]}
]}
]
}
